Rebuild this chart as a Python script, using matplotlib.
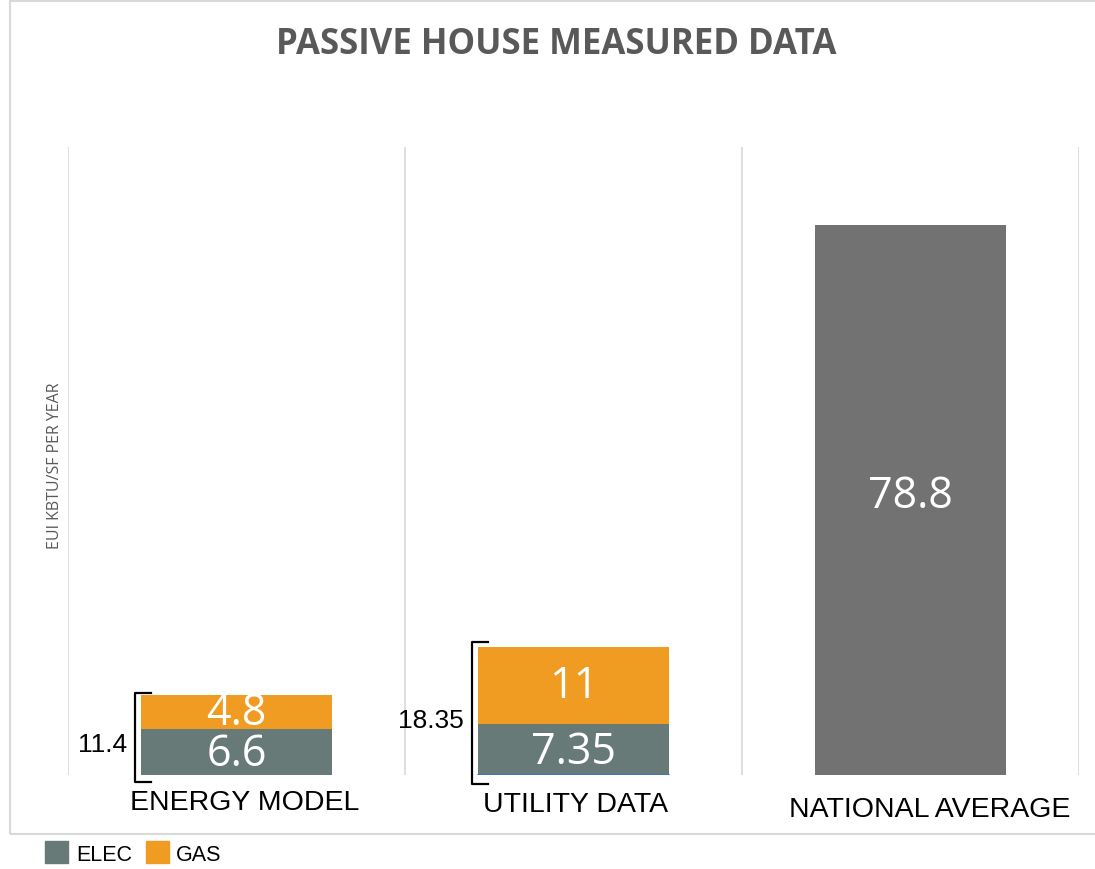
import matplotlib.pyplot as plt
from matplotlib.patches import Rectangle

# data
categories = ["ENERGY MODEL", "UTILITY DATA", "NATIONAL AVERAGE"]
elec = [6.6, 7.35, 0]
gas = [4.8, 11, 0]
national = [0, 0, 78.8]
totals = [11.4, 18.35]

ELEC_C = "#687a77"
GAS_C = "#f09c22"
NAT_C = "#727272"

fig = plt.figure(figsize=(10.95, 8.7), dpi=100)
fig.patches.append(Rectangle((10 / 1095, 1 - 835 / 870), 1.2, 833 / 870,
                             transform=fig.transFigure, fill=False,
                             edgecolor="#d9d9d9", lw=1.5))

ax = fig.add_axes([68 / 1095, 1 - 776 / 870, 1011 / 1095, 628 / 870])
x = list(range(len(categories)))
w = 0.564

ax.bar(x[:2], elec[:2], width=w, color=ELEC_C, zorder=3)
ax.bar(x[:2], gas[:2], width=w, bottom=elec[:2], color=GAS_C, zorder=3)
ax.bar(x[2], national[2], width=w, color=NAT_C, zorder=3)
# thin blue line under the utility bar
ax.plot([1 - w / 2, 1 + w / 2], [0.05, 0.05], color="#4472c4", lw=1.2, zorder=4)

ax.set_xlim(-0.5, 2.5)
ax.set_ylim(0, 90)
for b in [-0.5, 0.5, 1.5, 2.5]:
    ax.axvline(b, color="#d9d9d9", lw=1.2, zorder=1)
for s in ax.spines.values():
    s.set_visible(False)
ax.set_xticks([])
ax.set_yticks([])

lbl_font = dict(family="Open Sans", color="white", ha="center", va="center")
for i in range(2):
    ax.text(i, elec[i] / 2 - 0.3, f"{elec[i]:g}", fontsize=31, **lbl_font)
    ax.text(i, elec[i] + gas[i] / 2 - 0.1, f"{gas[i]:g}", fontsize=31, **lbl_font)
ax.text(2, 40, f"{national[2]:g}", fontsize=31, **lbl_font)

# brackets + totals
br = [(-1.0, 0.4), (-1.3, 0.75)]
for i, t in enumerate(totals):
    xl = i - w / 2 - 0.018
    lo, hi = br[i]
    ax.plot([xl + 0.045, xl, xl, xl + 0.045], [lo, lo, t + hi, t + hi],
            color="black", lw=1.6, clip_on=False, zorder=4)
    ax.text(xl - 0.025, t / 2 - 1.3, f"{t:g}", ha="right", va="center",
            fontsize=19, family="Liberation Sans", color="black")

# category labels
cat_pos = [(245, 803), (576, 805), (930, 810)]
for c, (px, py) in zip(categories, cat_pos):
    fig.text(px / 1095, 1 - py / 870, c, ha="center", va="center",
             fontsize=20.5, family="Liberation Sans", color="black")

fig.text(556 / 1095, 1 - 45 / 870, "PASSIVE HOUSE MEASURED DATA", ha="center",
         va="center", fontsize=25, fontweight="bold", family="Open Sans",
         color="#595959")
fig.text(55 / 1095, 1 - 466 / 870, "EUI KBTU/SF PER YEAR", rotation=90,
         ha="center", va="center", fontsize=11.5, family="Open Sans",
         color="#595959")

# legend
fig.patches.append(Rectangle((45 / 1095, 1 - 864 / 870), 23 / 1095, 22 / 870,
                             transform=fig.transFigure, color=ELEC_C))
fig.patches.append(Rectangle((146 / 1095, 1 - 864 / 870), 23 / 1095, 22 / 870,
                             transform=fig.transFigure, color=GAS_C))
fig.text(76 / 1095, 1 - 856 / 870, "ELEC", ha="left", va="center",
         fontsize=15.5, family="Liberation Sans")
fig.text(176 / 1095, 1 - 856 / 870, "GAS", ha="left", va="center",
         fontsize=15.5, family="Liberation Sans")

fig.savefig("out.png", dpi=100)
